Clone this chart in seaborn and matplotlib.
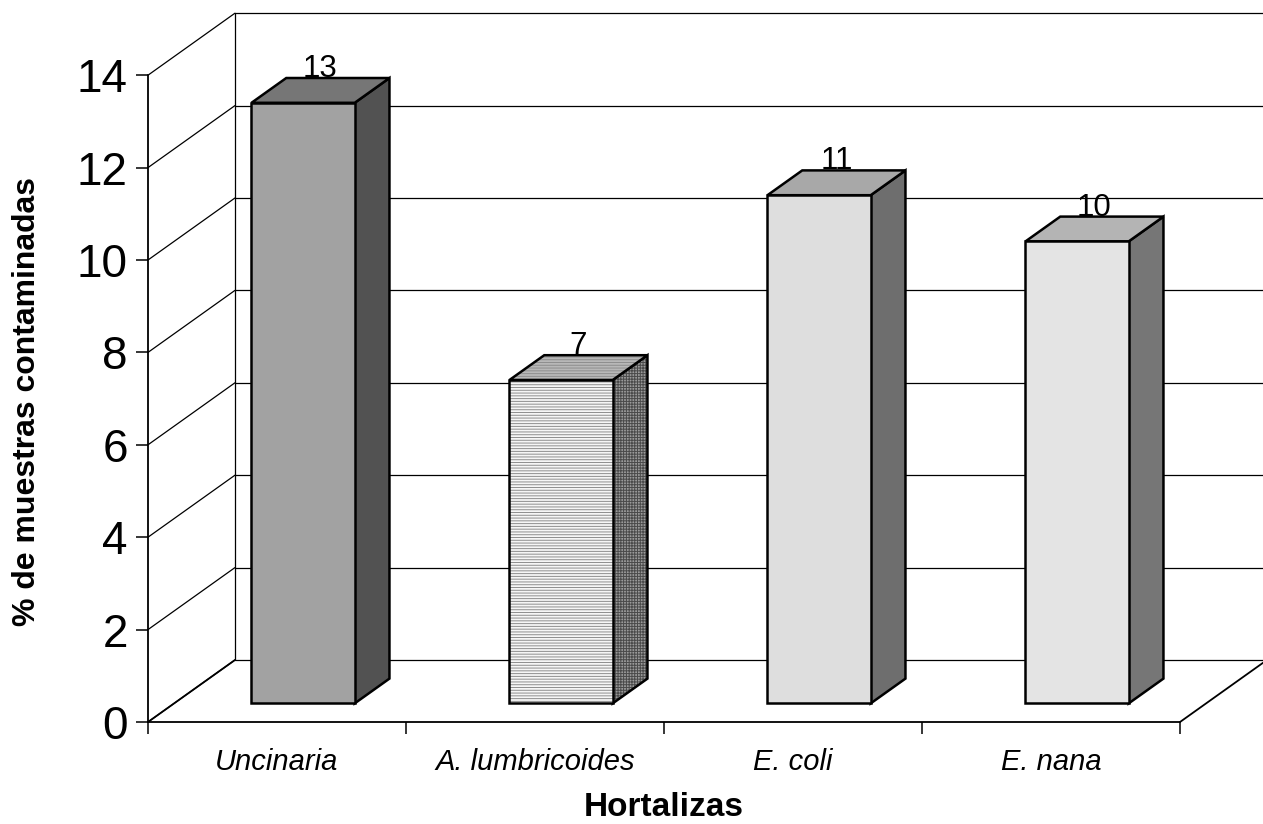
import matplotlib
matplotlib.use("Agg")
import matplotlib.pyplot as plt
from matplotlib.patches import Polygon
import pandas as pd
import seaborn as sns

# ---- data -------------------------------------------------------------
categories = ["Uncinaria", "A. lumbricoides", "E. coli", "E. nana"]
values = [13, 7, 11, 10]
y_ticks = [0, 2, 4, 6, 8, 10, 12, 14]
x_title = "Hortalizas"
y_title = "% de muestras contaminadas"

# ---- face styles (front, top, side) ------------------------------------
front_colors = ["#a2a2a2", "#f6f6f6", "#dedede", "#e4e4e4"]
top_colors = ["#767676", "#b8b8b8", "#a8a8a8", "#b4b4b4"]
side_colors = ["#525252", "#9a9a9a", "#6e6e6e", "#767676"]
front_hatch = [None, "------", None, None]
top_hatch = [None, "------", None, None]
side_hatch = [None, "++++++", None, None]
hatch_colors = ["#000000", "#8e8e8e", "#000000", "#000000"]
side_hatch_colors = ["#000000", "#4a4a4a", "#000000", "#000000"]

sns.set_theme(style="white")
plt.rcParams["font.family"] = ["Liberation Sans", "DejaVu Sans"]
plt.rcParams["hatch.linewidth"] = 0.7

W, H = 1263, 824
fig = plt.figure(figsize=(W / 100, H / 100), dpi=100)

# oblique depth offset of the 3-D box, in data units
DX = 0.337
DY = 1.342
YMAX = 14
D0, D1 = 0.3, 0.7          # depth span occupied by the bars
PX_X, PX_Y = 258.0, 46.2    # pixels per data unit

ax = fig.add_axes([148 / W, (H - 722) / H,
                   (4 + DX) * PX_X / W, (YMAX + DY) * PX_Y / H])

df = pd.DataFrame({"cat": categories, "val": values})
sns.barplot(data=df, x="cat", y="val", order=categories, width=0.4,
            color="#cccccc", saturation=1, errorbar=None, ax=ax)

xl, xr = -0.5, len(categories) - 0.5
bx0 = xl + DX  # back-left floor corner

# ---- walls, floor and gridlines ---------------------------------------
grid_kw = dict(color="#000000", lw=0.9, zorder=1, clip_on=False)
for v in y_ticks:
    ax.plot([xl, bx0], [v, v + DY], **grid_kw)           # side wall
    ax.plot([bx0, xr + DX], [v + DY, v + DY], **grid_kw)  # back wall
ax.plot([bx0, bx0], [DY, YMAX + DY], **grid_kw)
axis_kw = dict(color="#000000", lw=1.3, zorder=1.5, clip_on=False)
ax.plot([xl, xl], [0, YMAX], **axis_kw)
ax.plot([xl, xr], [0, 0], **axis_kw)
ax.plot([xl, bx0], [0, DY], **axis_kw)
ax.plot([xr, xr + DX], [0, DY], **axis_kw)


def face(pts, fc, hatch, hc, z):
    ax.add_patch(Polygon(pts, closed=True, facecolor=fc, edgecolor=hc,
                         hatch=hatch, lw=0, zorder=z))
    ax.add_patch(Polygon(pts, closed=True, facecolor="none",
                         edgecolor="#000000", lw=1.8, zorder=z + 0.1,
                         joinstyle="miter"))


ddx, ddy = (D1 - D0) * DX, (D1 - D0) * DY
for i, p in enumerate(list(ax.patches)[:len(categories)]):
    x, w, h = p.get_x(), p.get_width(), p.get_height()
    fx, fy = x + D0 * DX, D0 * DY
    p.set_visible(False)
    front = [(fx, fy), (fx + w, fy), (fx + w, fy + h), (fx, fy + h)]
    top = [(fx, fy + h), (fx + w, fy + h),
           (fx + w + ddx, fy + h + ddy), (fx + ddx, fy + h + ddy)]
    side = [(fx + w, fy), (fx + w + ddx, fy + ddy),
            (fx + w + ddx, fy + h + ddy), (fx + w, fy + h)]
    face(side, side_colors[i], side_hatch[i], side_hatch_colors[i], 4)
    face(top, top_colors[i], top_hatch[i], hatch_colors[i], 4.3)
    face(front, front_colors[i], front_hatch[i], hatch_colors[i], 4.6)
    ax.text(fx + w / 2 + ddx / 2, fy + h + ddy + 0.02, f"{values[i]:g}",
            ha="center", va="baseline", fontsize=22.5, color="#000000",
            zorder=3)

# ---- axes, ticks and labels -------------------------------------------
ax.set_xlim(xl, xr + DX)
ax.set_ylim(0, YMAX + DY)
for s in ax.spines.values():
    s.set_visible(False)

ax.set_yticks(y_ticks)
ax.set_yticklabels([f"{v}" for v in y_ticks])
ax.tick_params(axis="y", left=True, direction="out", length=8.6, width=1.1,
               color="#000000", pad=6, labelsize=33, labelcolor="#000000")

bounds = [xl + k for k in range(len(categories) + 1)]
ax.set_xticks(bounds)
ax.set_xticklabels([""] * len(bounds))
ax.set_xticks(range(len(categories)), labels=categories, minor=True)
ax.tick_params(axis="x", which="major", bottom=True, direction="out",
               length=8.6, width=1.1, color="#000000")
ax.tick_params(axis="x", which="minor", bottom=True, length=0, pad=19,
               labelsize=21, labelcolor="#000000")
for lbl in ax.get_xticklabels(minor=True):
    lbl.set_fontstyle("italic")

ax.set_xlabel(x_title, fontsize=24, fontweight="bold", color="#000000")
ax.set_ylabel(y_title, fontsize=23, fontweight="bold", color="#000000")
ax.xaxis.set_label_coords((664 - 148) / ((4 + DX) * PX_X),
                          (722 - 808) / ((YMAX + DY) * PX_Y))
ax.xaxis.label.set_va("center")
ax.yaxis.set_label_coords((27 - 148) / ((4 + DX) * PX_X),
                          (722 - 402) / ((YMAX + DY) * PX_Y))
ax.yaxis.label.set_va("center")

fig.savefig("out.png", dpi=100, facecolor="white")
